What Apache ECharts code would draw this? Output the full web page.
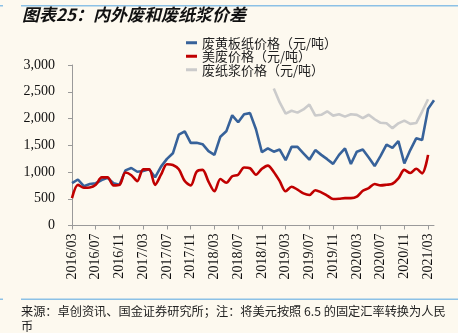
<!DOCTYPE html>
<html><head><meta charset="utf-8">
<script src="https://cdn.jsdelivr.net/npm/echarts@6/dist/echarts.min.js"></script>
<style>html,body{margin:0;padding:0;background:#FDF9EF;}#c{width:458px;height:333px;}</style>
</head><body><div id="c"></div>
<script>
// Months 2016/03 .. 2021/04
var categories = [];
(function(){ var y=2016,m=3; for(var i=0;i<62;i++){ categories.push(y+'/'+(m<10?'0'+m:m)); m++; if(m>12){m=1;y++;} } })();

var kraftPrices = [791,860,735,775,790,850,890,790,760,1030,1075,1005,1020,1050,900,1100,1245,1350,1700,1760,
  1545,1545,1520,1390,1320,1660,1760,2060,1930,2080,2100,1800,1370,1440,1380,1420,1220,1470,1470,1350,
  1230,1410,1320,1240,1152,1320,1440,1150,1380,1420,1270,1110,1300,1510,1450,1580,1160,1410,1630,1600,
  2180,2340];
var usWastePrices = [511,760,705,710,760,900,900,750,760,990,940,830,1050,1050,760,950,1145,1130,1050,830,
  750,1005,1040,820,640,870,800,920,950,1085,1070,950,1060,1120,1000,830,640,725,670,600,
  570,660,620,560,495,500,511,511,540,650,700,775,750,762,780,880,1040,980,1060,975,
  1320,null];
var pulpPrices = [null,null,null,null,null,null,null,null,null,null,null,null,null,null,null,null,null,null,null,null,
  null,null,null,null,null,null,null,null,null,null,null,null,null,null,2560,2300,2090,2145,2110,2170,
  2260,2055,2070,2135,2054,2078,2035,2078,2068,2008,2070,1986,1920,1912,1820,1910,1960,1900,1915,2130,
  2360,null];
var seriesNames = ['废黄板纸价格（元/吨）','美废价格（元/吨）','废纸浆价格（元/吨）'];
var titleText = '图表25：内外废和废纸浆价差';
var sourceText = '来源：卓创资讯、国金证券研究所；注：将美元按照 6.5 的固定汇率转换为人民\n币';

var chart = echarts.init(document.getElementById('c'), null, {renderer:'canvas', width:458, height:333});
var serif = '"Liberation Serif","DejaVu Serif",serif';
var cjk = '"Noto Sans CJK SC","Noto Sans",sans-serif';
chart.setOption({
  backgroundColor:'#FDF9EF',
  animation:false,
  graphic:[
    {type:'rect', shape:{x:21,y:5,width:437,height:1.5}, style:{fill:'#8CC1E6'}},
    {type:'rect', shape:{x:0,y:5,width:3,height:1.5}, style:{fill:'#8CC1E6'}},
    {type:'rect', shape:{x:21,y:298.5,width:437,height:1.5}, style:{fill:'#8CC1E6'}},
    {type:'rect', shape:{x:0,y:298.5,width:3,height:1.5}, style:{fill:'#8CC1E6'}},
    {type:'text', left:22, top:6, style:{text:titleText, font:'italic bold 17px '+cjk, fill:'#111'}},
    {type:'text', left:21, top:304, style:{text:sourceText, font:'12.2px '+cjk, fill:'#222', lineHeight:15}}
  ],
  legend:{
    orient:'vertical', left:181, top:31, itemGap:0, padding:5,
    icon:'rect', itemWidth:11, itemHeight:3,
    textStyle:{fontFamily:cjk, fontSize:13, color:'#222', lineHeight:13.5},
    data:seriesNames
  },
  grid:{left:72, right:24, top:65, bottom:107.5, containLabel:false},
  xAxis:{
    type:'category', data:categories, boundaryGap:false,
    axisLine:{lineStyle:{color:'#9A9A9A'}},
    axisTick:{show:true, interval:3, length:4, lineStyle:{color:'#9A9A9A'}},
    axisLabel:{interval:3, rotate:90, fontFamily:serif, fontSize:14, color:'#111', margin:8},
    splitLine:{show:false}
  },
  yAxis:{
    type:'value', min:0, max:3000, interval:500,
    axisLine:{show:true, lineStyle:{color:'#9A9A9A'}},
    axisTick:{show:true, length:4, lineStyle:{color:'#9A9A9A'}},
    axisLabel:{fontFamily:serif, fontSize:14, color:'#111', margin:17,
      formatter:function(v){return v.toString().replace(/\B(?=(\d{3})+(?!\d))/g, ',');}},
    splitLine:{show:false}
  },
  series:[
    {name:seriesNames[0], type:'line', data:kraftPrices, symbol:'none', smooth:false, color:'#37629A', lineStyle:{width:2.6, color:'#37629A'}},
    {name:seriesNames[1], type:'line', data:usWastePrices, symbol:'none', smooth:0.3, color:'#C00000', lineStyle:{width:2.6, color:'#C00000'}},
    {name:seriesNames[2], type:'line', data:pulpPrices, symbol:'none', smooth:false, color:'#CBCBCB', lineStyle:{width:2.6, color:'#CBCBCB'}}
  ]
});
</script></body></html>
